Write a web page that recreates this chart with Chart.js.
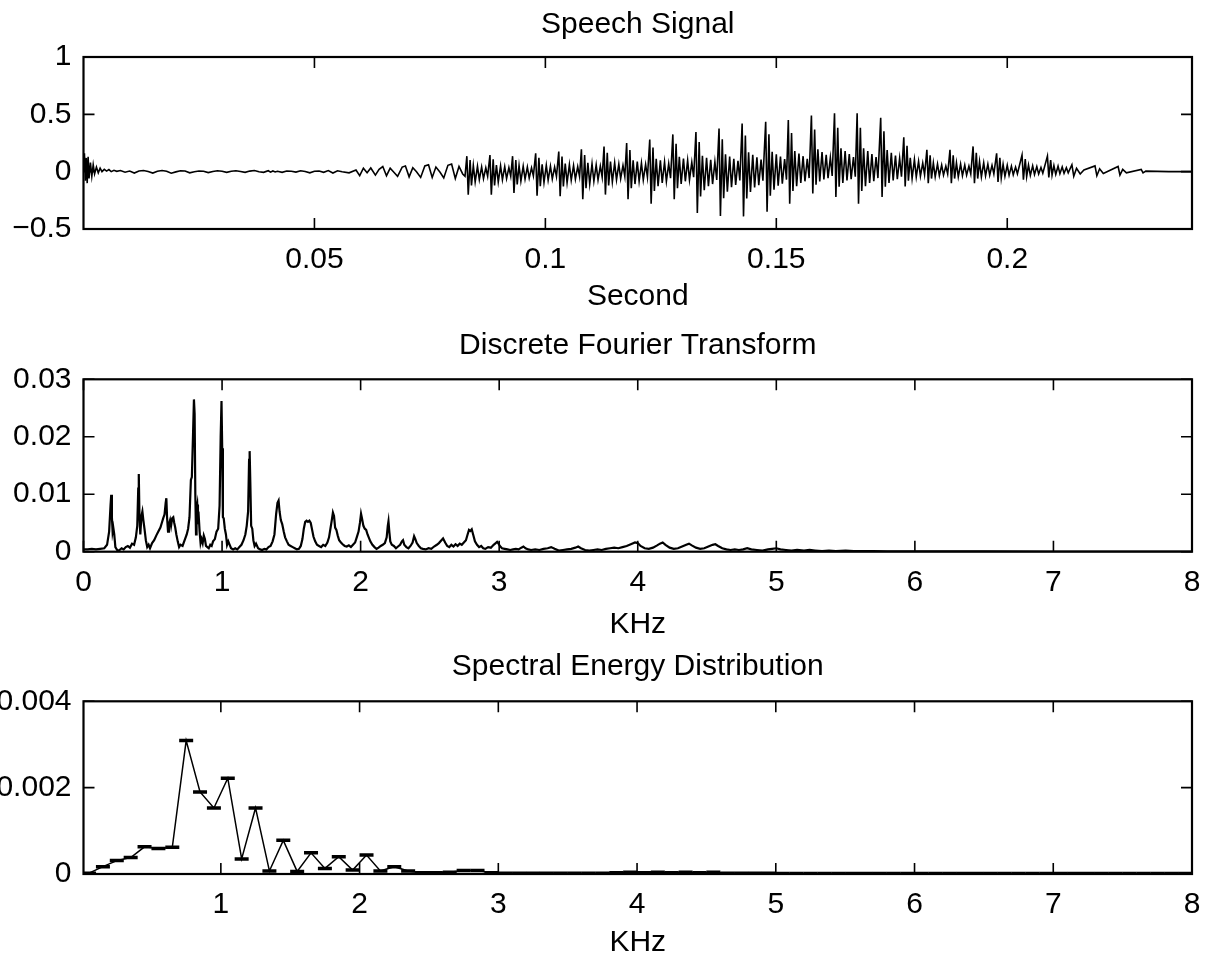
<!DOCTYPE html>
<html>
<head>
<meta charset="utf-8">
<script src="https://cdn.jsdelivr.net/npm/chart.js@4.4.1/dist/chart.umd.min.js"></script>
<style>
html,body{margin:0;padding:0;background:#fff;}
#wrap{position:relative;width:1210px;height:963px;overflow:hidden;background:#fff;}
canvas{position:absolute;left:0;}
</style>
</head>
<body>
<div id="wrap">
<canvas id="c1" width="1210" height="320" style="top:0px"></canvas>
<canvas id="c2" width="1210" height="330" style="top:320px"></canvas>
<canvas id="c3" width="1210" height="323" style="top:640px"></canvas>
</div>
<script>
// ---------------- DATA ----------------
// Speech signal: [time (s), amplitude]
const speechPoints = [
[0.0000,0.00],[0.0002,0.16],[0.0004,-0.08],[0.0006,0.12],[0.0008,-0.10],[0.0010,0.13],[0.0012,-0.06],[0.0015,0.08],[0.0018,-0.04],[0.0021,0.06],[0.0024,-0.02],[0.0028,0.04],[0.0032,-0.01],[0.0036,0.03],[0.0040,0.00],[0.0045,0.02],[0.0050,0.005],[0.0055,0.018],[0.0060,0.0],[0.0066,0.012],[0.0072,0.003],[0.0080,0.010],[0.0090,-0.005],[0.0100,0.005],[0.0110,-0.012],[0.0120,0.006],[0.0130,0.010],[0.0140,0.002],[0.0150,-0.012],[0.0160,0.004],[0.0170,0.010],[0.0180,0.004],[0.0190,-0.014],[0.0200,-0.002],[0.0210,0.008],[0.0220,0.006],[0.0230,-0.010],[0.0240,0.000],[0.0250,0.006],[0.0260,0.004],[0.0270,-0.008],[0.0280,0.002],[0.0290,0.008],[0.0300,0.003],[0.0310,-0.006],[0.0320,0.004],[0.0330,0.008],[0.0340,0.002],[0.0350,-0.006],[0.0360,0.005],[0.0370,0.010],[0.0380,0.000],[0.0390,-0.006],[0.0400,0.008],[0.0405,-0.004],[0.0410,0.006],[0.0415,-0.002],[0.0420,0.004],[0.0430,-0.006],[0.0440,0.006],[0.0450,0.003],[0.0460,-0.004],[0.0470,0.008],[0.0480,0.002],[0.0490,-0.010],[0.0500,0.004],[0.0510,0.006],[0.0520,-0.006],[0.0530,0.010],[0.0540,-0.012],[0.0550,0.008],[0.0560,0.000],[0.0575,-0.010],[0.0590,0.015],[0.0598,-0.035],[0.0606,0.030],[0.0614,-0.010],[0.0622,0.032],[0.0632,-0.030],[0.0640,0.020],[0.0648,0.045],[0.0656,-0.035],[0.0664,0.030],[0.0672,-0.005],[0.0680,-0.040],[0.0690,0.040],[0.0697,0.050],[0.0705,-0.045],[0.0713,0.035],[0.0721,0.000],[0.0730,-0.050],[0.0739,0.050],[0.0747,0.060],[0.0755,-0.050],[0.0763,0.040],[0.0772,-0.005],[0.0780,-0.055],[0.0789,0.055],[0.0797,0.067],[0.0805,-0.060],[0.0813,0.045],[0.0821,-0.020],[0.0826,-0.040],
[0.0830,0.135],[0.0833,-0.200],[0.0837,0.101],[0.0840,-0.120],[0.0844,0.054],[0.0848,-0.090],[0.0853,0.047],[0.0857,-0.070],[0.0862,0.041],[0.0866,-0.060],[0.0871,0.034],[0.0875,-0.040],
[0.0880,0.145],[0.0883,-0.200],[0.0887,0.109],[0.0890,-0.120],[0.0894,0.058],[0.0898,-0.090],[0.0903,0.051],[0.0907,-0.070],[0.0912,0.044],[0.0916,-0.060],[0.0921,0.036],[0.0925,-0.040],
[0.0929,0.135],[0.0932,-0.185],[0.0936,0.101],[0.0939,-0.111],[0.0943,0.054],[0.0947,-0.083],[0.0952,0.047],[0.0956,-0.065],[0.0961,0.041],[0.0965,-0.056],[0.0970,0.034],[0.0974,-0.037],
[0.0979,0.160],[0.0982,-0.210],[0.0986,0.120],[0.0989,-0.126],[0.0993,0.064],[0.0997,-0.095],[0.1002,0.056],[0.1006,-0.074],[0.1011,0.048],[0.1015,-0.063],[0.1020,0.040],[0.1024,-0.042],
[0.1029,0.175],[0.1032,-0.215],[0.1036,0.131],[0.1039,-0.129],[0.1043,0.070],[0.1047,-0.097],[0.1052,0.061],[0.1056,-0.075],[0.1061,0.053],[0.1065,-0.065],[0.1070,0.044],[0.1074,-0.043],
[0.1078,0.195],[0.1081,-0.240],[0.1085,0.146],[0.1088,-0.144],[0.1092,0.078],[0.1096,-0.108],[0.1101,0.068],[0.1105,-0.084],[0.1110,0.059],[0.1114,-0.072],[0.1119,0.049],[0.1123,-0.048],
[0.1127,0.220],[0.1130,-0.200],[0.1134,0.165],[0.1137,-0.120],[0.1141,0.088],[0.1145,-0.090],[0.1150,0.077],[0.1154,-0.070],[0.1159,0.066],[0.1163,-0.060],[0.1168,0.055],[0.1172,-0.040],
[0.1176,0.250],[0.1179,-0.240],[0.1183,0.188],[0.1186,-0.144],[0.1190,0.100],[0.1194,-0.108],[0.1199,0.088],[0.1203,-0.084],[0.1208,0.075],[0.1212,-0.072],[0.1217,0.063],[0.1221,-0.048],
[0.1226,0.280],[0.1229,-0.280],[0.1233,0.210],[0.1236,-0.168],[0.1240,0.112],[0.1244,-0.126],[0.1249,0.098],[0.1253,-0.098],[0.1258,0.084],[0.1262,-0.084],[0.1267,0.070],[0.1271,-0.056],
[0.1276,0.325],[0.1279,-0.240],[0.1283,0.244],[0.1286,-0.144],[0.1290,0.130],[0.1294,-0.108],[0.1299,0.114],[0.1303,-0.084],[0.1308,0.098],[0.1312,-0.072],[0.1317,0.081],[0.1321,-0.048],
[0.1326,0.345],[0.1329,-0.360],[0.1333,0.259],[0.1336,-0.216],[0.1340,0.138],[0.1344,-0.162],[0.1349,0.121],[0.1353,-0.126],[0.1358,0.104],[0.1362,-0.108],[0.1367,0.086],[0.1371,-0.072],
[0.1376,0.377],[0.1379,-0.386],[0.1383,0.283],[0.1386,-0.232],[0.1390,0.151],[0.1394,-0.174],[0.1399,0.132],[0.1403,-0.135],[0.1408,0.113],[0.1412,-0.116],[0.1417,0.094],[0.1421,-0.077],
[0.1426,0.420],[0.1429,-0.390],[0.1433,0.315],[0.1436,-0.234],[0.1440,0.168],[0.1444,-0.176],[0.1449,0.147],[0.1453,-0.137],[0.1458,0.126],[0.1462,-0.117],[0.1467,0.105],[0.1471,-0.078],
[0.1477,0.435],[0.1480,-0.350],[0.1484,0.326],[0.1487,-0.210],[0.1491,0.174],[0.1495,-0.158],[0.1500,0.152],[0.1504,-0.123],[0.1509,0.131],[0.1513,-0.105],[0.1518,0.109],[0.1522,-0.070],
[0.1526,0.450],[0.1529,-0.280],[0.1533,0.338],[0.1536,-0.168],[0.1540,0.180],[0.1544,-0.126],[0.1549,0.158],[0.1553,-0.098],[0.1558,0.135],[0.1562,-0.084],[0.1567,0.113],[0.1571,-0.056],
[0.1576,0.490],[0.1579,-0.190],[0.1583,0.368],[0.1586,-0.114],[0.1590,0.196],[0.1594,-0.086],[0.1599,0.172],[0.1603,-0.067],[0.1608,0.147],[0.1612,-0.057],[0.1617,0.123],[0.1621,-0.038],
[0.1626,0.510],[0.1629,-0.220],[0.1633,0.383],[0.1636,-0.132],[0.1640,0.204],[0.1644,-0.099],[0.1649,0.179],[0.1653,-0.077],[0.1658,0.153],[0.1662,-0.066],[0.1667,0.128],[0.1671,-0.044],
[0.1675,0.510],[0.1678,-0.280],[0.1682,0.383],[0.1685,-0.168],[0.1689,0.204],[0.1693,-0.126],[0.1698,0.179],[0.1702,-0.098],[0.1707,0.153],[0.1711,-0.084],[0.1716,0.128],[0.1720,-0.056],
[0.1726,0.470],[0.1729,-0.220],[0.1733,0.353],[0.1736,-0.132],[0.1740,0.188],[0.1744,-0.099],[0.1749,0.165],[0.1753,-0.077],[0.1758,0.141],[0.1762,-0.066],[0.1767,0.118],[0.1771,-0.044],
[0.1776,0.300],[0.1779,-0.130],[0.1783,0.225],[0.1786,-0.078],[0.1790,0.120],[0.1794,-0.059],[0.1799,0.105],[0.1803,-0.046],[0.1808,0.090],[0.1812,-0.039],[0.1817,0.075],[0.1821,-0.026],
[0.1826,0.190],[0.1829,-0.100],[0.1833,0.143],[0.1836,-0.060],[0.1840,0.076],[0.1844,-0.045],[0.1849,0.067],[0.1853,-0.035],[0.1858,0.057],[0.1862,-0.030],[0.1867,0.048],[0.1871,-0.020],
[0.1876,0.190],[0.1879,-0.100],[0.1883,0.143],[0.1886,-0.060],[0.1890,0.076],[0.1894,-0.045],[0.1899,0.067],[0.1903,-0.035],[0.1908,0.057],[0.1912,-0.030],[0.1917,0.048],[0.1921,-0.020],
[0.1926,0.220],[0.1929,-0.100],[0.1933,0.165],[0.1936,-0.060],[0.1940,0.088],[0.1944,-0.045],[0.1949,0.077],[0.1953,-0.035],[0.1958,0.066],[0.1962,-0.030],[0.1967,0.055],[0.1971,-0.020],
[0.1977,0.160],[0.1980,-0.090],[0.1984,0.120],[0.1987,-0.054],[0.1991,0.064],[0.1995,-0.041],[0.2000,0.056],[0.2004,-0.032],[0.2009,0.048],[0.2013,-0.027],[0.2018,0.040],[0.2022,-0.018],
[0.2032,0.145],[0.2035,-0.070],[0.2039,0.109],[0.2042,-0.042],[0.2046,0.058],[0.2050,-0.032],[0.2055,0.051],[0.2059,-0.025],[0.2064,0.044],[0.2068,-0.021],[0.2073,0.036],[0.2077,-0.014],
[0.2087,0.136],[0.2090,-0.050],[0.2094,0.102],[0.2097,-0.030],[0.2101,0.054],[0.2105,-0.023],[0.2110,0.048],[0.2114,-0.018],[0.2119,0.041],[0.2123,-0.015],[0.2128,0.034],[0.2132,-0.010],
[0.2140,0.060],[0.2144,-0.040],[0.2150,0.030],[0.2158,-0.020],[0.2166,0.015],
[0.2190,0.050],[0.2194,-0.035],[0.2200,0.025],[0.2208,-0.015],
[0.2240,0.045],[0.2244,-0.030],[0.2250,0.020],[0.2258,-0.010],
[0.2290,0.020],[0.2294,-0.010],[0.2300,0.005],[0.2350,0.000],[0.2400,0.000]
];

// DFT magnitude: [frequency (kHz), magnitude]
const dftPoints = [
[0.000,0.0004],[0.030,0.0004],[0.060,0.0005],[0.090,0.0004],[0.120,0.0005],[0.150,0.0006],[0.170,0.0012],[0.185,0.0035],[0.195,0.0080],[0.200,0.0099],[0.205,0.0060],[0.210,0.0035],[0.215,0.0042],[0.222,0.0030],[0.230,0.0008],[0.245,0.0002],[0.260,0.0003],[0.275,0.0006],[0.290,0.0004],[0.305,0.0008],[0.320,0.0010],[0.335,0.0007],[0.350,0.0014],[0.365,0.0012],[0.378,0.0025],[0.388,0.0045],[0.395,0.0110],[0.399,0.0135],[0.404,0.0060],[0.410,0.0030],[0.418,0.0062],[0.425,0.0070],[0.432,0.0055],[0.440,0.0040],[0.450,0.0020],[0.460,0.0008],[0.470,0.0012],[0.480,0.0006],[0.495,0.0015],[0.510,0.0020],[0.525,0.0028],[0.540,0.0035],[0.555,0.0042],[0.565,0.0050],[0.575,0.0058],[0.585,0.0065],[0.593,0.0085],[0.598,0.0093],[0.603,0.0060],[0.610,0.0035],[0.617,0.0048],[0.625,0.0055],[0.632,0.0045],[0.640,0.0058],[0.648,0.0060],[0.655,0.0050],[0.662,0.0042],[0.670,0.0030],[0.680,0.0018],[0.690,0.0008],[0.700,0.0012],[0.715,0.0010],[0.730,0.0020],[0.745,0.0030],[0.755,0.0040],[0.765,0.0060],[0.775,0.0125],[0.782,0.0130],[0.790,0.0200],[0.797,0.0265],[0.802,0.0240],[0.807,0.0100],[0.812,0.0030],[0.816,0.0075],[0.821,0.0082],[0.826,0.0055],[0.832,0.0060],[0.838,0.0035],[0.845,0.0015],[0.852,0.0022],[0.860,0.0015],[0.868,0.0028],[0.876,0.0022],[0.884,0.0010],[0.894,0.0008],[0.904,0.0006],[0.915,0.0012],[0.925,0.0010],[0.935,0.0018],[0.948,0.0022],[0.960,0.0035],[0.972,0.0040],[0.982,0.0080],[0.990,0.0200],[0.996,0.0262],[1.001,0.0180],[1.006,0.0060],[1.012,0.0058],[1.020,0.0040],[1.028,0.0030],[1.036,0.0012],[1.045,0.0018],[1.055,0.0012],[1.065,0.0006],[1.080,0.0004],[1.095,0.0006],[1.110,0.0004],[1.125,0.0008],[1.140,0.0012],[1.155,0.0020],[1.168,0.0030],[1.178,0.0045],[1.188,0.0070],[1.195,0.0160],[1.199,0.0175],[1.204,0.0120],[1.210,0.0045],[1.218,0.0040],[1.226,0.0020],[1.235,0.0010],[1.245,0.0014],[1.260,0.0006],[1.275,0.0004],[1.290,0.0003],[1.305,0.0005],[1.320,0.0004],[1.335,0.0008],[1.350,0.0010],[1.365,0.0018],[1.378,0.0030],[1.390,0.0065],[1.400,0.0085],[1.408,0.0089],[1.415,0.0070],[1.424,0.0055],[1.434,0.0048],[1.445,0.0035],[1.455,0.0025],[1.468,0.0018],[1.480,0.0012],[1.495,0.0010],[1.510,0.0008],[1.525,0.0006],[1.540,0.0004],[1.555,0.0005],[1.568,0.0010],[1.580,0.0022],[1.590,0.0040],[1.600,0.0052],[1.610,0.0054],[1.620,0.0052],[1.630,0.0054],[1.640,0.0050],[1.650,0.0038],[1.660,0.0026],[1.672,0.0018],[1.685,0.0012],[1.700,0.0010],[1.715,0.0008],[1.730,0.0012],[1.745,0.0010],[1.760,0.0016],[1.772,0.0025],[1.782,0.0040],[1.792,0.0055],[1.800,0.0068],[1.808,0.0062],[1.816,0.0042],[1.825,0.0038],[1.835,0.0028],[1.845,0.0020],[1.858,0.0016],[1.870,0.0013],[1.885,0.0010],[1.900,0.0009],[1.915,0.0011],[1.930,0.0008],[1.945,0.0012],[1.960,0.0016],[1.972,0.0025],[1.985,0.0035],[1.995,0.0050],[2.003,0.0066],[2.010,0.0058],[2.020,0.0045],[2.030,0.0040],[2.040,0.0038],[2.050,0.0030],[2.060,0.0024],[2.070,0.0018],[2.085,0.0012],[2.100,0.0008],[2.115,0.0005],[2.130,0.0007],[2.145,0.0010],[2.160,0.0012],[2.175,0.0015],[2.188,0.0025],[2.196,0.0045],[2.201,0.0053],[2.207,0.0035],[2.214,0.0018],[2.225,0.0012],[2.240,0.0010],[2.255,0.0006],[2.270,0.0009],[2.285,0.0012],[2.298,0.0018],[2.306,0.0020],[2.315,0.0012],[2.330,0.0008],[2.345,0.0006],[2.360,0.0010],[2.375,0.0016],[2.386,0.0027],[2.395,0.0022],[2.405,0.0015],[2.420,0.0010],[2.435,0.0006],[2.450,0.0005],[2.470,0.0004],[2.490,0.0006],[2.510,0.0005],[2.530,0.0009],[2.550,0.0012],[2.565,0.0015],[2.580,0.0019],[2.595,0.0023],[2.610,0.0016],[2.625,0.0010],[2.640,0.0008],[2.655,0.0012],[2.670,0.0009],[2.685,0.0013],[2.700,0.0010],[2.715,0.0014],[2.730,0.0012],[2.745,0.0016],[2.760,0.0020],[2.772,0.0030],[2.782,0.0038],[2.792,0.0036],[2.802,0.0039],[2.812,0.0030],[2.825,0.0018],[2.840,0.0012],[2.855,0.0008],[2.870,0.0010],[2.885,0.0006],[2.900,0.0005],[2.920,0.0008],[2.940,0.0007],[2.960,0.0012],[2.975,0.0015],[2.985,0.0017],[2.995,0.0014],[3.005,0.0010],[3.020,0.0006],[3.040,0.0005],[3.060,0.0004],[3.080,0.0003],[3.100,0.0004],[3.120,0.0005],[3.140,0.0004],[3.160,0.0007],[3.175,0.0009],[3.190,0.0006],[3.210,0.0004],[3.230,0.0003],[3.260,0.0004],[3.290,0.0003],[3.320,0.0005],[3.350,0.0006],[3.375,0.0008],[3.400,0.0005],[3.430,0.0002],[3.460,0.0003],[3.490,0.0004],[3.520,0.0005],[3.550,0.0007],[3.570,0.0009],[3.590,0.0006],[3.620,0.0003],[3.650,0.0002],[3.680,0.0003],[3.710,0.0004],[3.740,0.0003],[3.770,0.0005],[3.800,0.0006],[3.830,0.0007],[3.860,0.0006],[3.890,0.0008],[3.920,0.0010],[3.950,0.0013],[3.980,0.0016],[4.000,0.0015],[4.020,0.0010],[4.050,0.0006],[4.080,0.0005],[4.110,0.0007],[4.140,0.0011],[4.160,0.0014],[4.180,0.0016],[4.200,0.0012],[4.230,0.0007],[4.260,0.0005],[4.290,0.0006],[4.320,0.0009],[4.350,0.0012],[4.370,0.0014],[4.390,0.0011],[4.420,0.0007],[4.450,0.0005],[4.480,0.0006],[4.510,0.0009],[4.540,0.0012],[4.560,0.0013],[4.580,0.0010],[4.610,0.0006],[4.640,0.0004],[4.670,0.0003],[4.700,0.0004],[4.730,0.0003],[4.760,0.0004],[4.790,0.0006],[4.820,0.0004],[4.860,0.0003],[4.900,0.0002],[4.940,0.0004],[4.970,0.0005],[5.000,0.0006],[5.030,0.0004],[5.070,0.0003],[5.110,0.0002],[5.150,0.0003],[5.200,0.0002],[5.240,0.0003],[5.280,0.0002],[5.330,0.0001],[5.380,0.0002],[5.430,0.0001],[5.500,0.0002],[5.560,0.0001],[5.620,0.0001],[5.700,0.0001],[5.800,0.00007],[5.900,0.00005],[6.000,0.00005],[6.500,0.00004],[7.000,0.00003],[7.500,0.00003],[8.000,0.00003]
];

// Spectral energy per 100 Hz band
const bandCenters = [0.05,0.15,0.25,0.35,0.45,0.55,0.65,0.75,0.85,0.95,1.05,1.15,1.25,1.35,1.45,1.55,1.65,1.75,1.85,1.95,2.05,2.15,2.25,2.35,2.45,2.55,2.65,2.75,2.85,2.95,3.05,3.15,3.25,3.35,3.45,3.55,3.65,3.75,3.85,3.95,4.05,4.15,4.25,4.35,4.45,4.55,4.65,4.75,4.85,4.95,5.05,5.15,5.25,5.35,5.45,5.55,5.65,5.75,5.85,5.95,6.05,6.15,6.25,6.35,6.45,6.55,6.65,6.75,6.85,6.95,7.05,7.15,7.25,7.35,7.45,7.55,7.65,7.75,7.85,7.95];
const bandEnergy = [0.00002,0.00017,0.00031,0.00038,0.00063,0.00059,0.00062,0.00309,0.00190,0.00153,0.00222,0.00035,0.00153,0.00007,0.00078,0.00006,0.00049,0.00013,0.00040,0.00009,0.00044,0.00007,0.00017,0.00007,0.00003,0.00003,0.00004,0.00008,0.00008,0.00003,0.00002,0.00002,0.00002,0.00002,0.00002,0.00002,0.00002,0.00002,0.00003,0.00004,0.00003,0.00004,0.00003,0.00004,0.00003,0.00004,0.00002,0.00002,0.00002,0.00002,0.00001,0.00001,0.00001,0.00001,0.00001,0.00001,0.00001,0.00001,0.00001,0.00001,0.00001,0.00001,0.00001,0.00001,0.00001,0.00001,0.00001,0.00001,0.00001,0.00001,0.00001,0.00001,0.00001,0.00001,0.00001,0.00001,0.00001,0.00001,0.00001,0.00001];

// Ticks
const speechXTicks = [0.05,0.1,0.15,0.2];
const speechXLabels = ['0.05','0.1','0.15','0.2'];
const speechYTicks = [-0.5,0,0.5,1];
const speechYLabels = ['\u22120.5','0','0.5','1'];
const dftXTicks = [0,1,2,3,4,5,6,7,8];
const dftXLabels = ['0','1','2','3','4','5','6','7','8'];
const dftYTicks = [0,0.01,0.02,0.03];
const dftYLabels = ['0','0.01','0.02','0.03'];
const energyXTicks = [1,2,3,4,5,6,7,8];
const energyXLabels = ['1','2','3','4','5','6','7','8'];
const energyYTicks = [0,0.002,0.004];
const energyYLabels = ['0','0.002','0.004'];

// ---------------- RENDERING ----------------
const FONT = "'Liberation Sans', Arial, Helvetica, sans-serif";
const TICK_SIZE = 30;
const TITLE_SIZE = 30;

const boxPlugin = {
  id: 'matlabBox',
  afterDatasetsDraw(chart) {
    const {ctx, chartArea: a} = chart;
    const x = chart.scales.x, y = chart.scales.y;
    ctx.save();
    ctx.strokeStyle = '#000';
    ctx.lineWidth = 1.6;
    const tl = 11;
    ctx.beginPath();
    x.ticks.forEach(t => {
      const px = x.getPixelForValue(t.value);
      ctx.moveTo(px, a.bottom); ctx.lineTo(px, a.bottom - tl);
      ctx.moveTo(px, a.top); ctx.lineTo(px, a.top + tl);
    });
    y.ticks.forEach(t => {
      const py = y.getPixelForValue(t.value);
      ctx.moveTo(a.left, py); ctx.lineTo(a.left + tl, py);
      ctx.moveTo(a.right, py); ctx.lineTo(a.right - tl, py);
    });
    ctx.stroke();
    ctx.lineWidth = 2.2;
    ctx.strokeRect(a.left, a.top, a.right - a.left, a.bottom - a.top);
    ctx.restore();
  }
};

function labeler(vals, labels) {
  return function(v) {
    for (let i = 0; i < vals.length; i++) if (Math.abs(vals[i] - v) < 1e-9) return labels[i];
    return '';
  };
}

function makeChart(id, cfg) {
  const canvasH = document.getElementById(id).height;
  return new Chart(document.getElementById(id), {
    type: 'scatter',
    data: { datasets: cfg.datasets },
    options: {
      responsive: false,
      animation: false,
      events: [],
      layout: { padding: { left: 0, right: 18, top: 0, bottom: 0 } },
      plugins: {
        legend: { display: false },
        tooltip: { enabled: false },
        title: {
          display: true, text: cfg.title, color: '#000', fullSize: false,
          font: { family: FONT, size: TITLE_SIZE, weight: 'normal' },
          padding: { top: cfg.titlePadTop, bottom: cfg.titlePadBottom }
        }
      },
      scales: {
        x: {
          type: 'linear', min: cfg.xMin, max: cfg.xMax,
          grid: { display: false, drawTicks: false },
          border: { display: false },
          afterBuildTicks: s => { s.ticks = cfg.xTicks.map(v => ({ value: v })); },
          afterFit: s => { s.height = canvasH - cfg.areaBottom; s.paddingLeft = 0; s.paddingRight = 0; },
          ticks: {
            color: '#000', padding: cfg.xTickPad, maxRotation: 0, autoSkip: false,
            font: { family: FONT, size: TICK_SIZE },
            callback: labeler(cfg.xTicks, cfg.xLabels)
          },
          title: {
            display: true, text: cfg.xTitle, color: '#000',
            font: { family: FONT, size: TITLE_SIZE },
            padding: { top: 0, bottom: cfg.xTitlePadBottom }
          }
        },
        y: {
          type: 'linear', min: cfg.yMin, max: cfg.yMax,
          grid: { display: false, drawTicks: false },
          border: { display: false },
          afterBuildTicks: s => { s.ticks = cfg.yTicks.map(v => ({ value: v })); },
          afterFit: s => { s.width = 83.5; s.paddingTop = 0; s.paddingBottom = 0; },
          ticks: {
            color: '#000', padding: 12, autoSkip: false,
            font: { family: FONT, size: TICK_SIZE },
            callback: labeler(cfg.yTicks, cfg.yLabels)
          }
        }
      }
    },
    plugins: [boxPlugin]
  });
}

makeChart('c1', {
  title: 'Speech Signal', titlePadTop: 7, titlePadBottom: 14,
  xTitle: 'Second', xTitlePadBottom: 5, xTickPad: 13, areaBottom: 229,
  xMin: 0, xMax: 0.24, yMin: -0.5, yMax: 1,
  xTicks: speechXTicks, xLabels: speechXLabels, yTicks: speechYTicks, yLabels: speechYLabels,
  datasets: [{
    data: speechPoints.map(p => ({ x: p[0], y: p[1] })),
    showLine: true, borderColor: '#000', borderWidth: 1.6, pointRadius: 0, tension: 0
  }]
});

makeChart('c2', {
  title: 'Discrete Fourier Transform', titlePadTop: 8, titlePadBottom: 15.3,
  xTitle: 'KHz', xTitlePadBottom: 7, xTickPad: 13, areaBottom: 231.7,
  xMin: 0, xMax: 8, yMin: 0, yMax: 0.03,
  xTicks: dftXTicks, xLabels: dftXLabels, yTicks: dftYTicks, yLabels: dftYLabels,
  datasets: [{
    data: dftPoints.map(p => ({ x: p[0], y: p[1] })),
    showLine: true, borderColor: '#000', borderWidth: 2.2, pointRadius: 0, tension: 0
  }]
});

makeChart('c3', {
  title: 'Spectral Energy Distribution', titlePadTop: 9, titlePadBottom: 16.3,
  xTitle: 'KHz', xTitlePadBottom: 2, xTickPad: 13, areaBottom: 234,
  xMin: 0.01, xMax: 8, yMin: 0, yMax: 0.004,
  xTicks: energyXTicks, xLabels: energyXLabels, yTicks: energyYTicks, yLabels: energyYLabels,
  datasets: [{
    data: bandCenters.map((f, i) => ({ x: f, y: bandEnergy[i] })),
    showLine: true, borderColor: '#000', borderWidth: 1.5, tension: 0,
    pointStyle: 'line', pointRadius: 7, pointBorderWidth: 3.5, pointBorderColor: '#000',
    pointBackgroundColor: '#000'
  }]
});
</script>
</body>
</html>
